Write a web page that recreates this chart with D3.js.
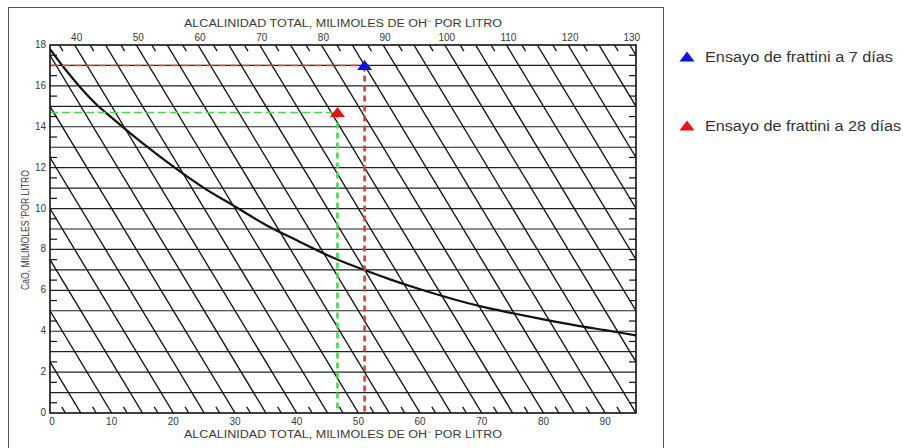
<!DOCTYPE html>
<html>
<head>
<meta charset="utf-8">
<script src="https://cdn.jsdelivr.net/npm/d3@7"></script>
<style>
  html, body { margin: 0; padding: 0; background: #ffffff; }
  svg { display: block; }
  text { font-family: "Liberation Sans", Arial, sans-serif; }
</style>
</head>
<body>
<svg id="chart" width="903" height="448"></svg>
<script>
// ---------- data ----------
const bottomTicks = [0, 10, 20, 30, 40, 50, 60, 70, 80, 90];
const topTicks = [40, 50, 60, 70, 80, 90, 100, 110, 120, 130];
const yTicks = [0, 2, 4, 6, 8, 10, 12, 14, 16, 18];
const gridY = [1, 2, 3, 4, 5, 6, 7, 8, 9, 10, 11, 12, 13, 14, 15, 16, 17];
const halfY = [0.5, 1.5, 2.5, 3.5, 4.5, 5.5, 6.5, 7.5, 8.5, 9.5, 10.5, 11.5, 12.5, 13.5, 14.5, 15.5, 16.5, 17.5];
// total alkalinity lines (constant OH + 2·CaO)
const diagonalT = [5, 10, 15, 20, 25, 30, 35, 40, 45, 50, 55, 60, 65, 70, 75, 80, 85, 90, 95, 100, 105, 110, 115, 120, 125, 130];
const topMinorT = [37.5, 42.5, 47.5, 52.5, 57.5, 62.5, 67.5, 72.5, 77.5, 82.5, 87.5, 92.5, 97.5, 102.5, 107.5, 112.5, 117.5, 122.5, 127.5];
const bottomMinorT = [2.5, 7.5, 12.5, 17.5, 22.5, 27.5, 32.5, 37.5, 42.5, 47.5, 52.5, 57.5, 62.5, 67.5, 72.5, 77.5, 82.5, 87.5, 92.5];
const curveX = [0, 2.5, 5, 7.5, 10, 15, 20, 25, 30, 35, 40, 45, 50, 55, 60, 65, 70, 75, 80, 85, 90, 95];
const curveY = [17.8, 16.8, 15.9, 15.1, 14.45, 13.2, 12.05, 11.0, 10.1, 9.2, 8.45, 7.72, 7.1, 6.55, 6.05, 5.6, 5.2, 4.88, 4.58, 4.3, 4.05, 3.8];
const seriesNames = ["Ensayo de frattini a 7 días", "Ensayo de frattini a 28 días"];
const seriesX = [51, 46.6];
const seriesY = [17, 14.7];
const seriesColors = ["#0a14e6", "#ee1111"];
const guideColors = ["#e23a3a", "#45dd45"];
const xDomain = [0, 95];
const yDomain = [0, 18];
const titleText = "ALCALINIDAD TOTAL, MILIMOLES DE OH\u207B POR LITRO";
const yTitle = "CaO, MILIMOLES 'POR LITRO";

// ---------- layout ----------
const svg = d3.select("#chart");
const L = 50, R = 636, T = 45, B = 413;
const x = d3.scaleLinear().domain(xDomain).range([L, R]);
const y = d3.scaleLinear().domain(yDomain).range([B, T]);
const CAO_FACTOR = 2; // T = x + 2y

// outer frame
svg.append("rect").attr("x", 8.5).attr("y", 7.5).attr("width", 655).attr("height", 460)
  .attr("fill", "none").attr("stroke", "#555").attr("stroke-width", 1);

svg.append("defs").append("clipPath").attr("id", "plotclip")
  .append("rect").attr("x", L).attr("y", T).attr("width", R - L).attr("height", B - T);

const plot = svg.append("g").attr("clip-path", "url(#plotclip)");

// horizontal grid
plot.selectAll("line.grid").data(gridY).enter().append("line")
  .attr("x1", L).attr("x2", R).attr("y1", d => y(d)).attr("y2", d => y(d))
  .attr("stroke", "#222").attr("stroke-width", 1.15);

// diagonals: x + 2y = t, from y=0 (x=t) to y=18 (x=t-36)
plot.selectAll("line.diag").data(diagonalT).enter().append("line")
  .attr("x1", d => x(d)).attr("y1", y(0))
  .attr("x2", d => x(d - CAO_FACTOR * 18)).attr("y2", y(18))
  .attr("stroke", "#111").attr("stroke-width", 1.35);

// minor diagonal ticks on top & bottom
const tickDy = 0.3; // in CaO units
plot.selectAll("line.tmin").data(topMinorT).enter().append("line")
  .attr("x1", d => x(d - CAO_FACTOR * 18)).attr("y1", y(18))
  .attr("x2", d => x(d - CAO_FACTOR * (18 - tickDy))).attr("y2", y(18 - tickDy))
  .attr("stroke", "#111").attr("stroke-width", 1.3);
plot.selectAll("line.bmin").data(bottomMinorT).enter().append("line")
  .attr("x1", d => x(d)).attr("y1", y(0))
  .attr("x2", d => x(d - CAO_FACTOR * tickDy)).attr("y2", y(tickDy))
  .attr("stroke", "#111").attr("stroke-width", 1.3);

// half-unit ticks on left and right edges
plot.selectAll("line.lt").data(halfY).enter().append("line")
  .attr("x1", L).attr("x2", L + 7).attr("y1", d => y(d)).attr("y2", d => y(d))
  .attr("stroke", "#111").attr("stroke-width", 1.2);
plot.selectAll("line.rt").data(halfY).enter().append("line")
  .attr("x1", R - 7).attr("x2", R).attr("y1", d => y(d)).attr("y2", d => y(d))
  .attr("stroke", "#111").attr("stroke-width", 1.2);

// curve
const curveData = curveX.map((v, i) => [v, curveY[i]]);
plot.append("path").datum(curveData)
  .attr("d", d3.line().x(d => x(d[0])).y(d => y(d[1])).curve(d3.curveMonotoneX))
  .attr("fill", "none").attr("stroke", "#111").attr("stroke-width", 2.2);

// guide dashed lines
seriesX.forEach((sx, i) => {
  plot.append("line")
    .attr("x1", x(0)).attr("x2", x(sx)).attr("y1", y(seriesY[i])).attr("y2", y(seriesY[i]))
    .attr("stroke", guideColors[i]).attr("stroke-width", 1.5).attr("stroke-dasharray", "8,4");
  plot.append("line")
    .attr("x1", x(sx)).attr("x2", x(sx)).attr("y1", y(seriesY[i])).attr("y2", y(0))
    .attr("stroke", guideColors[i]).attr("stroke-width", 2.6).attr("stroke-dasharray", "6,4");
});

// plot frame
svg.append("rect").attr("x", L).attr("y", T).attr("width", R - L).attr("height", B - T)
  .attr("fill", "none").attr("stroke", "#111").attr("stroke-width", 1.6);

// markers
const tri = "M0,-5.5L7.5,4.5L-7.5,4.5Z";
svg.selectAll("path.mk").data(seriesX).enter().append("path")
  .attr("d", tri)
  .attr("transform", (d, i) => `translate(${x(d)},${y(seriesY[i])})`)
  .attr("fill", (d, i) => seriesColors[i]);

// axis labels
const lblColor = "#3a3a3a";
svg.selectAll("text.bt").data(bottomTicks).enter().append("text")
  .attr("x", d => x(d) + (d === 0 ? 2 : 0)).attr("y", 425)
  .attr("text-anchor", "middle").attr("font-size", 10).attr("fill", lblColor).text(d => d);
svg.selectAll("text.tt").data(topTicks).enter().append("text")
  .attr("x", d => x(d - CAO_FACTOR * 18) + 2).attr("y", 41)
  .attr("text-anchor", "middle").attr("font-size", 10).attr("fill", lblColor).text(d => d);
svg.selectAll("text.yt").data(yTicks).enter().append("text")
  .attr("x", 46).attr("y", d => y(d) + 3)
  .attr("text-anchor", "end").attr("font-size", 10).attr("fill", lblColor).text(d => d);

svg.append("text").attr("x", 343).attr("y", 26.5).attr("text-anchor", "middle")
  .attr("font-size", 10).attr("fill", lblColor).attr("textLength", 318).attr("lengthAdjust", "spacingAndGlyphs")
  .text(titleText);
svg.append("text").attr("x", 343).attr("y", 438).attr("text-anchor", "middle")
  .attr("font-size", 10).attr("fill", lblColor).attr("textLength", 318).attr("lengthAdjust", "spacingAndGlyphs")
  .text(titleText);
svg.append("text")
  .attr("transform", "translate(29,230) rotate(-90)")
  .attr("text-anchor", "middle").attr("font-size", 10.5).attr("fill", lblColor)
  .attr("textLength", 120).attr("lengthAdjust", "spacingAndGlyphs")
  .text(yTitle);

// legend
const legendY = [57, 126];
const legendLen = [188, 196];
seriesNames.forEach((name, i) => {
  svg.append("path").attr("d", tri)
    .attr("transform", `translate(687,${legendY[i]})`).attr("fill", seriesColors[i]);
  svg.append("text").attr("x", 705).attr("y", legendY[i] + 5)
    .attr("font-size", 14).attr("fill", "#333")
    .attr("textLength", legendLen[i]).attr("lengthAdjust", "spacingAndGlyphs")
    .text(name);
});
</script>
</body>
</html>
